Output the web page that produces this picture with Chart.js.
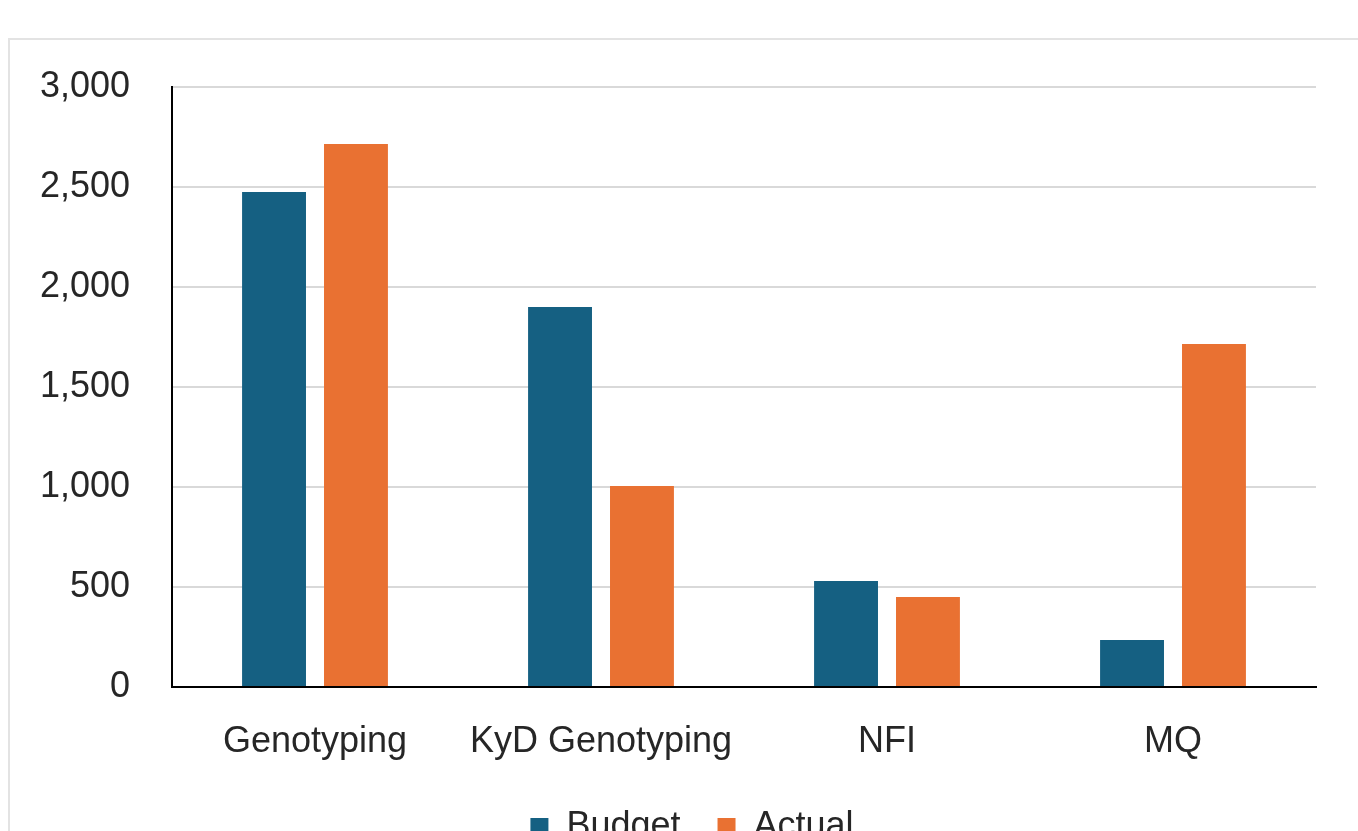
<!DOCTYPE html>
<html>
<head>
<meta charset="utf-8">
<script src="https://cdn.jsdelivr.net/npm/chart.js@4"></script>
<style>
  html, body { margin: 0; padding: 0; background: #fff; overflow: hidden; }
  #frame { position: absolute; left: 8px; top: 38px; width: 1500px; height: 900px; border: 2px solid #e3e3e3; box-sizing: border-box; }
  #wrap { position: absolute; left: 0; top: 0; width: 1358px; height: 855px; }
</style>
</head>
<body>
<div id="frame"></div>
<div id="wrap"><canvas id="dashboard" width="1358" height="855"></canvas></div>
<script>
const labels = ["Genotyping", "KyD Genotyping", "NFI", "MQ"];
const budget = [2475, 1900, 530, 235];
const actual = [2715, 1005, 450, 1715];
const yTicks = [0, 500, 1000, 1500, 2000, 2500, 3000];

const fontFamily = "'Liberation Sans', Arial, sans-serif";

// nudge the legend row to the right, as in the original
const legendShift = {
  id: "legendShift",
  afterLayout(chart) {
    chart.legend.left += 34;
    chart.legend.right += 34;
  },
};

const data = {
  labels: labels,
  datasets: [
    {
      label: "Budget",
      backgroundColor: "#156082",
      data: budget,
    },
    {
      label: "Actual",
      backgroundColor: "#e97132",
      data: actual,
    },
  ],
};

const option = {
  responsive: false,
  animation: false,
  layout: {
    padding: { top: 87, left: 0, right: 42, bottom: 0 },
  },
  datasets: {
    bar: {
      categoryPercentage: 0.573,
      barPercentage: 0.78,
    },
  },
  plugins: {
    tooltip: { enabled: false },
    legend: {
      position: "bottom",
      labels: {
        boxWidth: 18,
        boxHeight: 18,
        padding: 37,
        font: { size: 36, family: fontFamily },
        color: "#262626",
      },
    },
  },
  scales: {
    x: {
      grid: { display: false },
      border: { display: true, color: "#000", width: 2 },
      ticks: {
        padding: 25,
        font: { size: 36, family: fontFamily },
        color: "#262626",
      },
      afterFit: (scale) => { scale.height = 85; },
    },
    y: {
      min: 0,
      max: 3000,
      grid: { color: "#d9d9d9", lineWidth: 2, drawTicks: false },
      border: { display: true, color: "#000", width: 2 },
      afterBuildTicks: (scale) => { scale.ticks = yTicks.map((v) => ({ value: v })); },
      ticks: {
        padding: 42,
        font: { size: 36, family: fontFamily },
        color: "#262626",
      },
      afterFit: (scale) => { scale.width = 172; },
    },
  },
};

const config = {
  type: "bar",
  data: data,
  options: option,
  plugins: [legendShift],
};

const dashboard = new Chart(document.getElementById("dashboard"), config);
</script>
</body>
</html>
